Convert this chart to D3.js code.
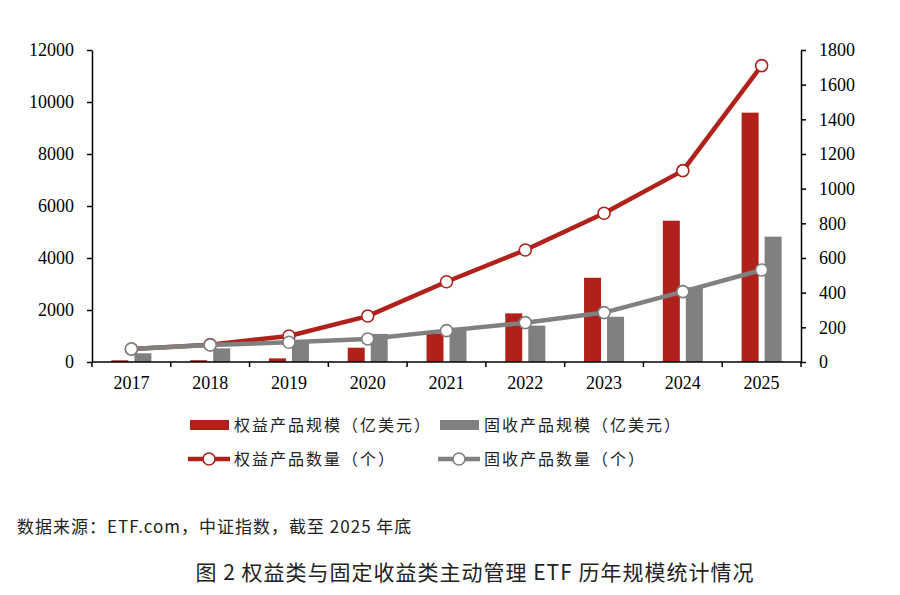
<!DOCTYPE html>
<meta charset="utf-8">
<style>
html, body { margin: 0; padding: 0; background: #fff; overflow: hidden; }
svg { display: block; }
.axis path, .axis line { stroke: #000; stroke-width: 1.5px; }
.cjk { font-family: "Noto Sans CJK SC", "Liberation Serif", serif; fill: #222; }
</style>
<body>
<script src="https://d3js.org/d3.v7.min.js"></script>
<script>

var years = ["2017", "2018", "2019", "2020", "2021", "2022", "2023", "2024", "2025"];

// 规模（亿美元），左轴
var equityAum = [65, 70, 140, 550, 1100, 1870, 3240, 5435, 9590];
var fixedAum = [335, 525, 780, 1080, 1320, 1400, 1740, 2880, 4820];

// 数量（个），右轴
var equityCount = [75, 100, 150, 265, 463, 646, 858, 1104, 1710];
var fixedCount = [75, 98, 114, 133, 181, 227, 285, 406, 531];

var leftTicks = [0, 2000, 4000, 6000, 8000, 10000, 12000];
var rightTicks = [0, 200, 400, 600, 800, 1000, 1200, 1400, 1600, 1800];

var red = "#B0211B";
var grey = "#808080";

var width = 900, height = 595;
var margin = {top: 50, right: 99, bottom: 233, left: 92};
var innerWidth = width - margin.left - margin.right;
var innerHeight = height - margin.top - margin.bottom;

var svg = d3.select("body").append("svg")
    .attr("width", width)
    .attr("height", height);

var g = svg.append("g")
    .attr("transform", `translate(${margin.left}, ${margin.top})`);

var x = d3.scaleBand()
    .domain(years)
    .range([0, innerWidth]);

var yLeft = d3.scaleLinear()
    .domain([0, 12000])
    .range([innerHeight, 0]);

var yRight = d3.scaleLinear()
    .domain([0, 1800])
    .range([innerHeight, 0]);

var barW = 17, barGap = 6;

// bars
g.selectAll("rect.equity")
  .data(equityAum)
  .enter().append("rect")
    .attr("class", "equity")
    .attr("x", (d, i) => x(years[i]) + x.bandwidth() / 2 - barGap / 2 - barW)
    .attr("y", d => yLeft(d))
    .attr("width", barW)
    .attr("height", d => innerHeight - yLeft(d))
    .attr("fill", red);

g.selectAll("rect.fixed")
  .data(fixedAum)
  .enter().append("rect")
    .attr("class", "fixed")
    .attr("x", (d, i) => x(years[i]) + x.bandwidth() / 2 + barGap / 2)
    .attr("y", d => yLeft(d))
    .attr("width", barW)
    .attr("height", d => innerHeight - yLeft(d))
    .attr("fill", grey);

function styleAxis(sel) {
  sel.attr("class", "axis");
  sel.selectAll("text")
    .style("font-family", "'Liberation Serif', 'Times New Roman', serif")
    .style("font-size", "18px")
    .attr("fill", "#000");
}

// axes
var xg = g.append("g")
    .attr("transform", `translate(0, ${innerHeight})`)
    .call(d3.axisBottom(x).tickSize(0).tickPadding(14))
    .call(styleAxis);
xg.select(".domain").attr("d", `M0,0H${innerWidth}`);
// ticks on category boundaries
xg.selectAll("line.bound")
  .data(d3.range(years.length + 1))
  .enter().append("line")
    .attr("class", "bound")
    .attr("x1", i => i * x.step())
    .attr("x2", i => i * x.step())
    .attr("y1", 0)
    .attr("y2", 5);

g.append("g")
    .call(d3.axisLeft(yLeft).tickValues(leftTicks).tickFormat(d3.format("d"))
      .tickSize(5).tickSizeOuter(0).tickPadding(13))
    .call(styleAxis);

g.append("g")
    .attr("transform", `translate(${innerWidth}, 0)`)
    .call(d3.axisRight(yRight).tickValues(rightTicks).tickFormat(d3.format("d"))
      .tickSize(5).tickSizeOuter(0).tickPadding(13))
    .call(styleAxis);

// lines
var line = d3.line()
    .x((d, i) => x(years[i]) + x.bandwidth() / 2)
    .y(d => yRight(d));

function drawSeries(values, color) {
  g.append("path")
    .datum(values)
    .attr("d", line)
    .attr("fill", "none")
    .attr("stroke", color)
    .attr("stroke-width", 4.5)
    .attr("stroke-linejoin", "round");
  g.selectAll(null)
    .data(values)
    .enter().append("circle")
      .attr("cx", (d, i) => x(years[i]) + x.bandwidth() / 2)
      .attr("cy", d => yRight(d))
      .attr("r", 6)
      .attr("fill", "#fff")
      .attr("stroke", color)
      .attr("stroke-width", 1.6);
}

drawSeries(equityCount, red);
drawSeries(fixedCount, grey);

// legend
var legend = [
  {label: "权益产品规模（亿美元）", color: red, type: "bar", x: 190, y: 425},
  {label: "固收产品规模（亿美元）", color: grey, type: "bar", x: 440, y: 425},
  {label: "权益产品数量（个）", color: red, type: "line", x: 188, y: 459},
  {label: "固收产品数量（个）", color: grey, type: "line", x: 438, y: 459}
];

var leg = svg.selectAll("g.legend")
  .data(legend)
  .enter().append("g")
    .attr("class", "legend")
    .attr("transform", d => `translate(${d.x}, ${d.y})`);

leg.filter(d => d.type === "bar").append("rect")
    .attr("x", 0).attr("y", -5)
    .attr("width", 39).attr("height", 10)
    .attr("fill", d => d.color);

leg.filter(d => d.type === "line").append("line")
    .attr("x1", 0).attr("x2", 42)
    .attr("stroke", d => d.color)
    .attr("stroke-width", 4.5);

leg.filter(d => d.type === "line").append("circle")
    .attr("cx", 21).attr("r", 6)
    .attr("fill", "#fff")
    .attr("stroke", d => d.color)
    .attr("stroke-width", 1.6);

leg.append("text")
    .attr("class", "cjk")
    .attr("x", d => d.type === "bar" ? 44 : 46)
    .attr("dy", "0.36em")
    .attr("font-size", 16)
    .attr("letter-spacing", 2)
    .text(d => d.label);

// source & title
svg.append("text")
    .attr("class", "cjk")
    .attr("x", 17).attr("y", 533)
    .attr("font-size", 17)
    .attr("letter-spacing", 1)
    .text("数据来源：ETF.com，中证指数，截至 2025 年底");

svg.append("text")
    .attr("class", "cjk")
    .attr("x", 475).attr("y", 580)
    .attr("text-anchor", "middle")
    .attr("font-size", 21)
    .attr("letter-spacing", 1)
    .text("图 2  权益类与固定收益类主动管理 ETF 历年规模统计情况");

</script>
</body>
